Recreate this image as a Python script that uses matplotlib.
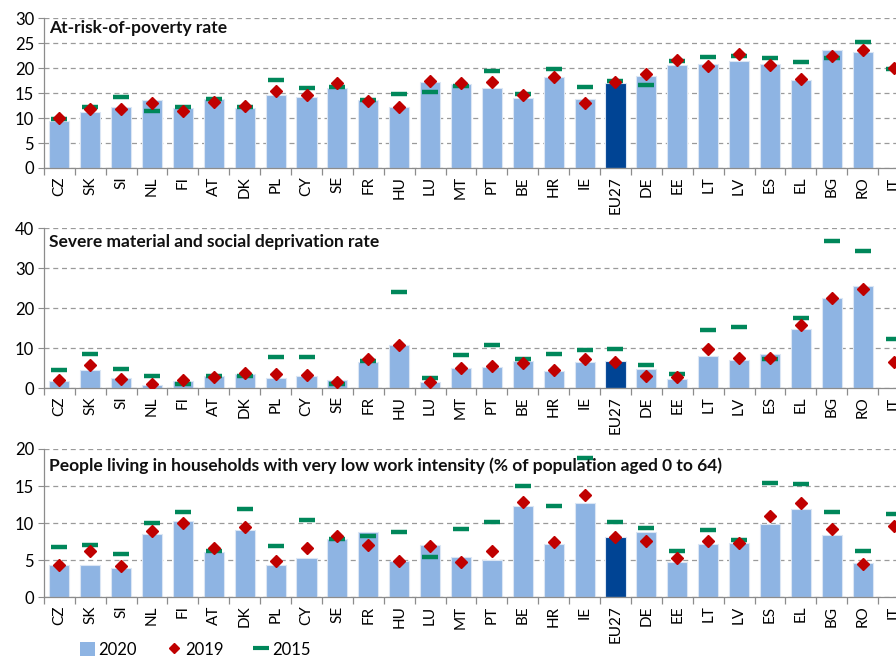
import numpy as np
import matplotlib
matplotlib.use("Agg")
import matplotlib.pyplot as plt
from matplotlib.lines import Line2D
from matplotlib.patches import Patch

plt.rcParams["font.family"] = ["Lato", "DejaVu Sans"]

countries = ["CZ", "SK", "SI", "NL", "FI", "AT", "DK", "PL", "CY", "SE", "FR", "HU", "LU",
             "MT", "PT", "BE", "HR", "IE", "EU27", "DE", "EE", "LT", "LV", "ES", "EL", "BG",
             "RO", "IT"]

# at-risk-of-poverty rate
arop_2020 = [9.5, 11.3, 12.3, 13.6, 12.1, 13.9, 12.1, 14.7, 14.2, 16.0, 13.7, 12.2, 17.3,
             16.8, 16.1, 14.1, 18.3, 13.9, 17.1, 18.4, 20.6, 20.8, 21.5, 20.9, 17.6, 23.7,
             23.3, np.nan]
arop_2019 = [10.0, 11.8, 11.9, 13.1, 11.5, 13.3, 12.5, 15.4, 14.6, 17.1, 13.5, 12.3, 17.5,
             17.0, 17.2, 14.7, 18.2, 13.0, 17.2, 18.9, 21.7, 20.5, 22.8, 20.6, 17.9, 22.5,
             23.7, 20.0]
arop_2015 = [9.8, 12.3, 14.2, 11.5, 12.3, 13.9, 12.2, 17.6, 16.1, 16.3, 13.7, 14.8, 15.2,
             16.5, 19.5, 14.9, 19.9, 16.2, 17.4, 16.7, 21.5, 22.2, 22.5, 22.0, 21.3, 22.0,
             25.3, 19.9]

# severe material and social deprivation rate
smsd_2020 = [1.8, 4.5, 2.5, 0.75, 1.75, 2.9, 3.4, 2.5, 3.1, 1.9, 6.5, 10.7, 1.6,
             5.0, 5.3, 6.8, 4.3, 6.6, 6.8, 4.7, 2.25, 8.1, 7.0, 8.5, 14.9, 22.5,
             25.6, np.nan]
smsd_2019 = [2.0, 5.8, 2.2, 1.0, 1.9, 2.7, 3.8, 3.4, 3.2, 1.5, 7.3, 10.9, 1.4,
             5.0, 5.6, 6.3, 4.5, 7.2, 6.5, 3.0, 2.7, 9.7, 7.6, 7.6, 15.8, 22.5,
             24.9, 6.4]
smsd_2015 = [4.4, 8.4, 4.8, 3.1, 0.9, 2.9, 3.1, 7.85, 7.85, 0.9, 6.8, 24.0, 2.4,
             8.2, 10.9, 7.2, 8.4, 9.4, 9.7, 5.7, 3.5, 14.6, 15.4, 7.35, 17.5, 36.8,
             34.2, 12.2]

# very low work intensity (0-64)
lwi_2020 = [4.4, 4.3, 3.9, 8.5, 10.3, 6.1, 9.1, 4.3, 5.3, 7.9, 8.8, 4.85, 7.1,
            5.4, 5.0, 12.3, 7.2, 12.7, 8.1, 8.8, 4.75, 7.15, 7.3, 9.9, 11.95, 8.35,
            4.6, np.nan]
lwi_2019 = [4.4, 6.3, 4.2, 8.9, 10.0, 6.6, 9.5, 4.9, 6.6, 8.3, 7.1, 4.9, 6.9,
            4.8, 6.2, 12.8, 7.5, 13.75, 8.1, 7.6, 5.3, 7.6, 7.3, 10.9, 12.7, 9.2,
            4.5, 9.6]
lwi_2015 = [6.8, 7.0, 5.8, 10.0, 11.5, 6.25, 11.9, 6.9, 10.4, 7.8, 8.3, 8.8, 5.4,
            9.2, 10.2, 15.0, 12.3, 18.8, 10.1, 9.4, 6.2, 9.1, 7.7, 15.4, 15.3, 11.5,
            6.2, 11.2]

titles = ["At-risk-of-poverty rate",
          "Severe material and social deprivation rate",
          "People living in households with very low work intensity (% of population aged 0 to 64)"]
ylims = [30, 40, 20]
ysteps = [5, 10, 5]
title_y = [0.933, 0.912, 0.885]

LIGHT = "#8eb4e3"
DARK = "#004494"
RED = "#c00000"
GREEN = "#00875a"
GREY = "#8c8c8c"

panels = [
    (arop_2020, arop_2019, arop_2015, [0.049, 0.7443, 0.9655, 0.2277]),
    (smsd_2020, smsd_2019, smsd_2015, [0.049, 0.4094, 0.9655, 0.2431]),
    (lwi_2020, lwi_2019, lwi_2015, [0.049, 0.0909, 0.9655, 0.2257]),
]

fig = plt.figure(figsize=(8.96, 6.57), dpi=100)
x = np.arange(len(countries))
colors = [DARK if c == "EU27" else LIGHT for c in countries]

for k, (v20, v19, v15, rect) in enumerate(panels):
    ax = fig.add_axes(rect)
    ax.bar(x, v20, width=0.65, color=colors, edgecolor="#dbe6f4", linewidth=0.8, zorder=2)
    ax.plot(x, v15, linestyle="none", marker="_", markersize=12, markeredgewidth=3.2,
            color=GREEN, zorder=3)
    ax.plot(x, v19, linestyle="none", marker="D", markersize=6.5, color=RED,
            markeredgecolor=RED, zorder=4)

    ax.set_xlim(-0.5, len(countries) - 0.5)
    ax.set_ylim(0, ylims[k])
    ax.set_yticks(np.arange(0, ylims[k] + 0.1, ysteps[k]))
    ax.yaxis.grid(True, linestyle=(0, (4, 3)), color="#9a9a9a", linewidth=0.9, zorder=0)
    ax.set_axisbelow(True)

    ax.set_xticks(x)
    ax.set_xticklabels(countries, rotation=90, fontsize=11)
    ax.set_xticks(np.arange(-0.5, len(countries), 1.0), minor=True)
    ax.tick_params(axis="x", which="major", length=0, pad=6)
    ax.tick_params(axis="x", which="minor", length=5, color=GREY, width=0.9)
    ax.tick_params(axis="y", length=4, color=GREY, labelsize=12, pad=3)

    for side in ("top", "right"):
        ax.spines[side].set_visible(False)
    for side in ("left", "bottom"):
        ax.spines[side].set_color(GREY)
        ax.spines[side].set_linewidth(0.9)

    ax.text(0.006, title_y[k], titles[k], transform=ax.transAxes, fontsize=12.5,
            fontweight="bold", va="center", ha="left", color="#111111")

handles = [
    Patch(facecolor=LIGHT, edgecolor="none"),
    Line2D([], [], linestyle="none", marker="D", markersize=5, color=RED),
    Line2D([], [], linestyle="none", marker="_", markersize=11, markeredgewidth=3.0, color=GREEN),
]
fig.legend(handles, ["2020", "2019", "2015"], loc="center left",
           bbox_to_anchor=(0.08, 0.011), ncol=3, frameon=False, fontsize=12,
           handlelength=0.9, handleheight=0.9, handletextpad=0.2, columnspacing=1.8,
           borderpad=0.0)

fig.savefig("out.png", dpi=100)
